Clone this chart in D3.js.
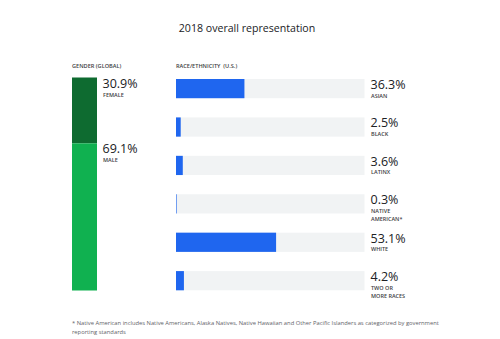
<!DOCTYPE html>
<html>
<head>
<meta charset="utf-8">
<script src="https://cdn.jsdelivr.net/npm/d3@7"></script>
<style>
  html, body { margin: 0; padding: 0; background: #fff; }
  svg { display: block; font-family: "Open Sans", Roboto, sans-serif; }
</style>
</head>
<body>
<svg id="chart" width="500" height="339"></svg>
<script>
const title = "2018 overall representation";
const genderCategories = ["FEMALE", "MALE"];
const genderValues = [30.9, 69.1];
const raceCategories = ["ASIAN", "BLACK", "LATINX", "NATIVE\nAMERICAN*", "WHITE", "TWO OR\nMORE RACES"];
const raceValues = [36.3, 2.5, 3.6, 0.3, 53.1, 4.2];
const footnote = ["* Native American includes Native Americans, Alaska Natives, Native Hawaiian and Other Pacific Islanders as categorized by government",
                  "reporting standards"];

const svg = d3.select("#chart");
const genderColors = ["#0e6b30", "#10b150"];
const blue = "#1f66ef";
const track = "#f1f3f4";

svg.append("text").attr("x", 247).attr("y", 31.5).attr("text-anchor", "middle")
  .attr("font-size", 10.6).attr("fill", "#202124").text(title);

svg.append("text").attr("x", 72).attr("y", 68).attr("font-size", 5.6).attr("font-weight", 600)
  .attr("fill", "#3c4043").text("GENDER (GLOBAL)");
svg.append("text").attr("x", 176).attr("y", 68).attr("font-size", 5.6).attr("font-weight", 600)
  .attr("fill", "#3c4043").attr("xml:space", "preserve").text("RACE/ETHNICITY  (U.S.)");

// Gender stacked bar
const gy = d3.scaleLinear().domain([0, 100]).range([77.5, 290.5]);
let cum = 0;
const gStack = genderValues.map((v, i) => { const s = { start: cum, end: cum + v, v, c: genderCategories[i] }; cum += v; return s; });
const gg = svg.append("g");
gg.selectAll("rect").data(gStack).join("rect")
  .attr("x", 72).attr("width", 25)
  .attr("y", d => gy(d.start)).attr("height", d => gy(d.end) - gy(d.start))
  .attr("fill", (d, i) => genderColors[i]);
gg.selectAll("text.val").data(gStack).join("text").attr("class", "val")
  .attr("x", 102.5).attr("y", d => gy(d.start) + 10)
  .attr("font-size", 12.5).attr("fill", "#202124").text(d => d3.format(".1f")(d.v) + "%");
gg.selectAll("text.cat").data(gStack).join("text").attr("class", "cat")
  .attr("x", 103).attr("y", d => gy(d.start) + 19)
  .attr("font-size", 5.5).attr("font-weight", 600).attr("fill", "#3c4043").text(d => d.c);

// Race bars
const x = d3.scaleLinear().domain([0, 100]).range([176, 364.5]);
const y = d3.scaleBand().domain(raceCategories).range([79, 290.3]).paddingInner(0.5).paddingOuter(0);
const rg = svg.append("g");
const rows = raceCategories.map((c, i) => ({ c, v: raceValues[i] }));
rg.selectAll("rect.track").data(rows).join("rect").attr("class", "track")
  .attr("x", x(0)).attr("width", x(100) - x(0))
  .attr("y", d => y(d.c)).attr("height", y.bandwidth()).attr("fill", track);
rg.selectAll("rect.bar").data(rows).join("rect").attr("class", "bar")
  .attr("x", x(0)).attr("width", d => Math.max(x(d.v) - x(0), 0.6))
  .attr("y", d => y(d.c)).attr("height", y.bandwidth()).attr("fill", blue);
rg.selectAll("text.val").data(rows).join("text").attr("class", "val")
  .attr("x", 370.5).attr("y", d => y(d.c) + 10)
  .attr("font-size", 12.5).attr("fill", "#202124").text(d => d3.format(".1f")(d.v) + "%");
rg.selectAll("text.cat").data(rows).join("text").attr("class", "cat")
  .attr("x", 371).attr("y", d => y(d.c) + 18.5)
  .attr("font-size", 5.5).attr("font-weight", 600).attr("fill", "#3c4043")
  .each(function(d) {
    const lines = d.c.split("\n");
    d3.select(this).selectAll("tspan").data(lines).join("tspan")
      .attr("x", 371).attr("dy", (l, i) => i === 0 ? 0 : 8).text(l => l);
  });

// Footnote
svg.append("text").attr("x", 72).attr("y", 324.5).attr("font-size", 5.8).attr("fill", "#5f6368")
  .selectAll("tspan").data(footnote).join("tspan")
  .attr("x", 72).attr("dy", (l, i) => i === 0 ? 0 : 9.5).text(l => l);
</script>
</body>
</html>
